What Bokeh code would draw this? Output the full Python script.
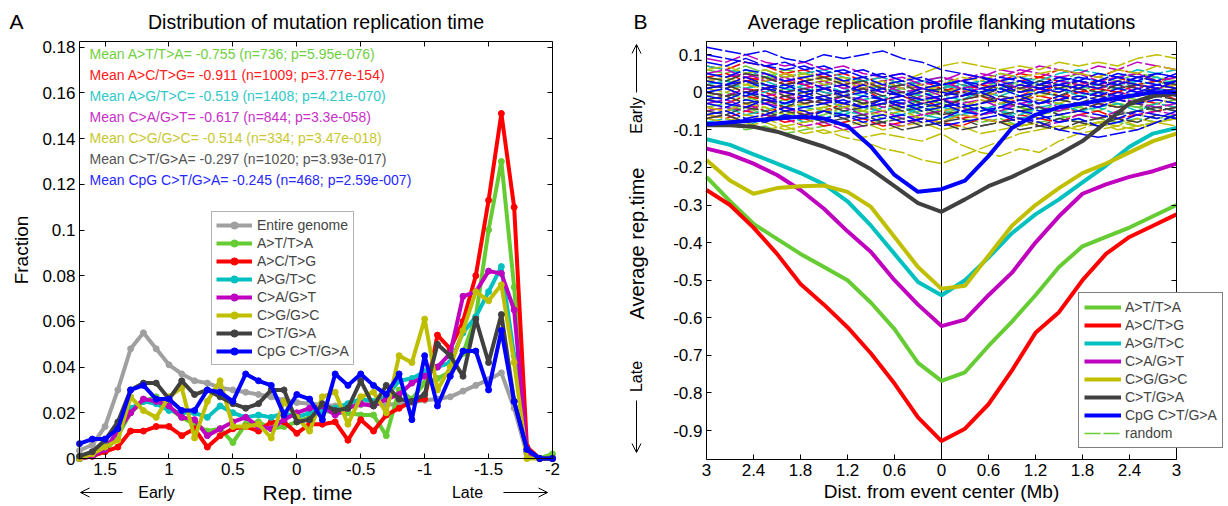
import math
from bokeh.plotting import figure
from bokeh.layouts import row
from bokeh.models import (Range1d, FixedTicker, LinearAxis, Label, Arrow, OpenHead,
                          Legend, LegendItem)
from bokeh.embed import file_html
from bokeh.resources import INLINE

FONT = "Liberation Sans"

# ---------------- Panel A data ----------------
REP_TIME = [1.7, 1.6, 1.5, 1.4, 1.3, 1.2, 1.1, 1.0, 0.9, 0.8, 0.7, 0.6, 0.5, 0.4, 0.3, 0.2, 0.1, 0.0,
            -0.1, -0.2, -0.3, -0.4, -0.5, -0.6, -0.7, -0.8, -0.9, -1.0, -1.1, -1.2, -1.3, -1.4, -1.5,
            -1.6, -1.7, -1.8, -1.9, -2.0]
GENOME = [0.0035, 0.006, 0.014, 0.030, 0.048, 0.055, 0.048, 0.041, 0.037, 0.034, 0.033, 0.031, 0.030,
          0.029, 0.028, 0.027, 0.0255, 0.0245,
          0.024, 0.0235, 0.023, 0.023, 0.0235, 0.024, 0.0235, 0.024, 0.0245, 0.0255, 0.026, 0.027,
          0.0295, 0.032, 0.0345, 0.0375, 0.022, 0.002, 0.0, 0.0]
A_AT = [0.0, 0.001, 0.003, 0.010, 0.020, 0.025, 0.027, 0.022, 0.018, 0.015, 0.012, 0.013, 0.007,
        0.015, 0.016, 0.013, 0.014, 0.016,
        0.018, 0.021, 0.020, 0.020, 0.019, 0.019, 0.010, 0.030, 0.026, 0.033, 0.035, 0.038, 0.046,
        0.062, 0.100, 0.130, 0.075, 0.003, 0.0, 0.002]
A_AC = [0.0, 0.001, 0.003, 0.005, 0.012, 0.012, 0.014, 0.014, 0.010, 0.013, 0.005, 0.010, 0.013,
        0.014, 0.012, 0.016, 0.016, 0.011,
        0.015, 0.015, 0.016, 0.008, 0.017, 0.012, 0.019, 0.022, 0.025, 0.026, 0.054, 0.048, 0.060,
        0.080, 0.113, 0.151, 0.110, 0.005, 0.0, 0.0]
A_AG = [0.0, 0.002, 0.005, 0.010, 0.022, 0.025, 0.024, 0.021, 0.020, 0.020, 0.018, 0.023, 0.020,
        0.018, 0.019, 0.018, 0.020, 0.018,
        0.020, 0.021, 0.022, 0.024, 0.026, 0.025, 0.027, 0.034, 0.035, 0.038, 0.040, 0.042, 0.055,
        0.062, 0.073, 0.084, 0.045, 0.003, 0.0, 0.0]
A_CA = [0.0, 0.001, 0.004, 0.012, 0.020, 0.026, 0.025, 0.023, 0.018, 0.017, 0.010, 0.013, 0.016,
        0.018, 0.014, 0.013, 0.017, 0.020,
        0.022, 0.023, 0.019, 0.022, 0.024, 0.023, 0.026, 0.028, 0.033, 0.036, 0.040, 0.046, 0.071,
        0.073, 0.082, 0.081, 0.065, 0.003, 0.0, 0.0]
A_CG = [0.0, 0.002, 0.005, 0.008, 0.027, 0.021, 0.018, 0.027, 0.031, 0.009, 0.025, 0.034, 0.014,
        0.014, 0.015, 0.009, 0.025, 0.018,
        0.012, 0.027, 0.029, 0.015, 0.027, 0.029, 0.020, 0.045, 0.042, 0.061, 0.030, 0.040, 0.056,
        0.073, 0.069, 0.076, 0.042, 0.0, 0.0, 0.0]
A_CT = [0.001, 0.003, 0.008, 0.016, 0.030, 0.033, 0.033, 0.026, 0.034, 0.028, 0.030, 0.027, 0.024,
        0.022, 0.024, 0.030, 0.030, 0.016,
        0.017, 0.024, 0.021, 0.022, 0.034, 0.023, 0.032, 0.026, 0.025, 0.028, 0.050, 0.045, 0.036,
        0.061, 0.042, 0.063, 0.025, 0.004, 0.0, 0.0]
A_CPG = [0.0065, 0.0085, 0.0085, 0.013, 0.030, 0.032, 0.026, 0.026, 0.021, 0.021, 0.030, 0.029, 0.025,
         0.037, 0.034, 0.032, 0.019, 0.028,
         0.026, 0.017, 0.037, 0.032, 0.037, 0.032, 0.028, 0.037, 0.017, 0.045, 0.023, 0.036, 0.047,
         0.047, 0.030, 0.056, 0.025, 0.004, 0.0, 0.0]

NAMES = ["A>T/T>A", "A>C/T>G", "A>G/T>C", "C>A/G>T", "C>G/G>C", "C>T/G>A", "CpG C>T/G>A"]
COLORS = ["#66cc33", "#ff0000", "#00c0c0", "#bf00bf", "#bfbf00", "#404040", "#0000ff"]
TEXT_COLORS = ["#70d040", "#ff2020", "#30c8c8", "#c830c8", "#c8c830", "#555555", "#2828ff"]
GENOME_COLOR = "#a0a0a0"
A_SERIES = [A_AT, A_AC, A_AG, A_CA, A_CG, A_CT, A_CPG]

MEAN_TEXTS = [
    "Mean A>T/T>A= -0.755 (n=736; p=5.95e-076)",
    "Mean A>C/T>G= -0.911 (n=1009; p=3.77e-154)",
    "Mean A>G/T>C= -0.519 (n=1408; p=4.21e-070)",
    "Mean C>A/G>T= -0.617 (n=844; p=3.3e-058)",
    "Mean C>G/G>C= -0.514 (n=334; p=3.47e-018)",
    "Mean C>T/G>A= -0.297 (n=1020; p=3.93e-017)",
    "Mean CpG C>T/G>A= -0.245 (n=468; p=2.59e-007)",
]

A_XTICKS = [1.5, 1.0, 0.5, 0.0, -0.5, -1.0, -1.5, -2.0]
A_XLABELS = ["1.5", "1", "0.5", "0", "-0.5", "-1", "-1.5", "-2"]
A_YTICKS = [0.0, 0.02, 0.04, 0.06, 0.08, 0.1, 0.12, 0.14, 0.16, 0.18]
A_YLABELS = ["0", "0.02", "0.04", "0.06", "0.08", "0.1", "0.12", "0.14", "0.16", "0.18"]

# ---------------- Panel B data ----------------
DIST = [-3.0, -2.7, -2.4, -2.1, -1.8, -1.5, -1.2, -0.9, -0.6, -0.3, 0.0,
        0.3, 0.6, 0.9, 1.2, 1.5, 1.8, 2.1, 2.4, 2.7, 3.0]
B_AT = [-0.225, -0.29, -0.35, -0.39, -0.43, -0.465, -0.50, -0.56, -0.63, -0.72, -0.768,
        -0.745, -0.675, -0.61, -0.54, -0.465, -0.41, -0.385, -0.36, -0.33, -0.30]
B_AC = [-0.26, -0.30, -0.36, -0.43, -0.51, -0.565, -0.625, -0.695, -0.775, -0.865, -0.928,
        -0.895, -0.83, -0.74, -0.64, -0.585, -0.50, -0.43, -0.385, -0.355, -0.325]
B_AG = [-0.125, -0.14, -0.165, -0.19, -0.215, -0.245, -0.29, -0.355, -0.43, -0.505, -0.54,
        -0.50, -0.44, -0.375, -0.325, -0.285, -0.24, -0.195, -0.145, -0.11, -0.095]
B_CA = [-0.15, -0.165, -0.19, -0.22, -0.26, -0.31, -0.37, -0.425, -0.50, -0.565, -0.622,
        -0.605, -0.54, -0.48, -0.40, -0.33, -0.27, -0.245, -0.225, -0.21, -0.19]
B_CG = [-0.18, -0.235, -0.27, -0.255, -0.25, -0.248, -0.265, -0.305, -0.385, -0.465, -0.523,
        -0.515, -0.435, -0.355, -0.30, -0.255, -0.215, -0.19, -0.16, -0.13, -0.11]
B_CT = [-0.088, -0.088, -0.092, -0.105, -0.125, -0.145, -0.17, -0.205, -0.25, -0.295, -0.318,
        -0.285, -0.25, -0.225, -0.195, -0.165, -0.13, -0.08, -0.03, -0.01, -0.005]
B_CPG = [-0.085, -0.08, -0.075, -0.07, -0.065, -0.07, -0.09, -0.145, -0.22, -0.265, -0.258,
         -0.235, -0.17, -0.095, -0.06, -0.04, -0.03, -0.02, -0.01, 0.0, 0.0]
B_SERIES = [B_AT, B_AC, B_AG, B_CA, B_CG, B_CT, B_CPG]

# random control profiles (thin dashed), grouped by colour
RANDOM_X = [-3.0, -2.75, -2.5, -2.25, -2.0, -1.75, -1.5, -1.25, -1.0, -0.75, -0.5, -0.25, 0.0,
            0.25, 0.5, 0.75, 1.0, 1.25, 1.5, 1.75, 2.0, 2.25, 2.5, 2.75, 3.0]
RANDOM_GREEN = [
    [0.02, 0.03, 0.02, 0.04, 0.03, 0.02, 0.03, 0.01, 0.02, 0.00, 0.01, -0.01, 0.00, 0.01, 0.02, 0.01, 0.03, 0.02, 0.01, 0.02, 0.00, 0.01, 0.02, 0.01, 0.02],
    [-0.04, -0.03, -0.05, -0.04, -0.06, -0.05, -0.04, -0.06, -0.05, -0.07, -0.06, -0.05, -0.06, -0.04, -0.05, -0.03, -0.04, -0.05, -0.03, -0.04, -0.02, -0.03, -0.04, -0.03, -0.02],
    [0.06, 0.05, 0.07, 0.05, 0.04, 0.05, 0.03, 0.04, 0.02, 0.03, 0.01, 0.02, 0.00, 0.02, 0.01, 0.03, 0.02, 0.04, 0.03, 0.05, 0.04, 0.03, 0.05, 0.04, 0.03],
    [-0.01, 0.00, -0.02, -0.01, 0.01, 0.00, -0.02, -0.03, -0.02, -0.04, -0.03, -0.05, -0.04, -0.03, -0.05, -0.04, -0.02, -0.03, -0.01, -0.02, 0.00, -0.01, -0.02, 0.00, -0.01],
    [-0.09, -0.08, -0.10, -0.09, -0.11, -0.10, -0.09, -0.08, -0.07, -0.08, -0.06, -0.07, -0.05, -0.07, -0.08, -0.07, -0.09, -0.08, -0.07, -0.06, -0.07, -0.05, -0.06, -0.07, -0.06],
    [0.04, 0.03, 0.05, 0.04, 0.06, 0.05, 0.04, 0.03, 0.04, 0.02, 0.03, 0.02, 0.03, 0.01, 0.02, 0.00, 0.01, 0.02, 0.01, 0.03, 0.02, 0.01, 0.02, 0.03, 0.01],
    [-0.02, -0.03, -0.01, -0.03, -0.02, -0.04, -0.03, -0.01, -0.02, -0.01, 0.00, -0.01, -0.03, -0.02, -0.04, -0.05, -0.04, -0.06, -0.05, -0.04, -0.05, -0.03, -0.04, -0.05, -0.04],
    [-0.06, -0.05, -0.04, -0.06, -0.05, -0.07, -0.06, -0.04, -0.05, -0.03, -0.04, -0.02, -0.03, -0.05, -0.04, -0.06, -0.05, -0.07, -0.06, -0.08, -0.07, -0.08, -0.09, -0.08, -0.07],
]
RANDOM_RED = [
    [0.04, 0.05, 0.03, 0.04, 0.02, 0.03, 0.01, 0.02, 0.00, 0.01, -0.01, 0.00, 0.01, 0.00, 0.02, 0.01, 0.03, 0.04, 0.03, 0.02, 0.03, 0.04, 0.02, 0.03, 0.02],
    [-0.02, -0.03, -0.01, -0.02, -0.04, -0.03, -0.02, -0.04, -0.03, -0.02, -0.03, -0.02, -0.04, -0.02, -0.01, -0.03, -0.02, -0.01, -0.02, 0.00, -0.01, -0.02, -0.01, 0.00, -0.02],
    [0.01, 0.02, 0.00, 0.01, 0.03, 0.02, 0.00, -0.01, 0.01, -0.02, -0.01, -0.03, -0.02, -0.01, 0.00, -0.02, -0.01, 0.01, 0.00, 0.02, 0.01, 0.00, 0.02, 0.01, 0.03],
    [-0.06, -0.07, -0.05, -0.06, -0.08, -0.07, -0.09, -0.08, -0.07, -0.09, -0.08, -0.07, -0.08, -0.09, -0.07, -0.08, -0.06, -0.07, -0.08, -0.06, -0.05, -0.07, -0.06, -0.05, -0.04],
    [0.07, 0.06, 0.08, 0.07, 0.05, 0.06, 0.04, 0.05, 0.03, 0.04, 0.02, 0.03, 0.01, 0.03, 0.04, 0.03, 0.05, 0.04, 0.06, 0.05, 0.04, 0.06, 0.05, 0.03, 0.04],
    [0.03, 0.02, 0.04, 0.03, 0.05, 0.03, 0.04, 0.02, 0.03, 0.01, 0.02, 0.01, 0.00, 0.02, 0.01, 0.02, 0.00, 0.01, -0.01, 0.00, 0.01, 0.00, 0.02, 0.01, 0.00],
    [-0.04, -0.05, -0.03, -0.05, -0.04, -0.06, -0.05, -0.03, -0.04, -0.05, -0.04, -0.06, -0.05, -0.07, -0.06, -0.05, -0.07, -0.06, -0.04, -0.05, -0.03, -0.04, -0.02, -0.03, -0.04],
    [0.00, -0.01, 0.01, 0.00, -0.02, -0.01, 0.01, 0.00, 0.02, 0.01, 0.00, 0.01, 0.02, 0.01, 0.03, 0.02, 0.01, 0.00, 0.02, 0.01, -0.01, 0.00, -0.01, 0.01, 0.00],
]
RANDOM_CYAN = [
    [0.00, 0.01, -0.01, 0.00, 0.02, 0.01, 0.00, -0.01, -0.02, -0.01, -0.03, -0.02, -0.01, -0.02, 0.00, -0.01, 0.01, 0.00, -0.01, 0.01, 0.02, 0.01, 0.00, 0.01, 0.00],
    [0.05, 0.04, 0.06, 0.04, 0.03, 0.04, 0.02, 0.03, 0.01, 0.02, 0.00, 0.01, 0.02, 0.01, 0.03, 0.02, 0.01, 0.03, 0.02, 0.04, 0.03, 0.02, 0.03, 0.04, 0.02],
    [-0.05, -0.04, -0.06, -0.05, -0.03, -0.04, -0.05, -0.06, -0.04, -0.05, -0.06, -0.04, -0.05, -0.06, -0.04, -0.05, -0.06, -0.04, -0.03, -0.05, -0.04, -0.03, -0.05, -0.04, -0.05],
    [0.03, 0.02, 0.01, 0.03, 0.01, 0.00, 0.02, 0.00, -0.01, 0.01, 0.00, -0.01, 0.01, 0.02, 0.00, 0.01, -0.01, 0.00, 0.01, -0.01, 0.00, -0.02, -0.01, 0.00, -0.01],
    [-0.08, -0.07, -0.09, -0.07, -0.06, -0.08, -0.07, -0.05, -0.06, -0.04, -0.05, -0.03, -0.04, -0.05, -0.06, -0.05, -0.07, -0.06, -0.08, -0.07, -0.09, -0.08, -0.07, -0.08, -0.06],
    [0.02, 0.03, 0.01, 0.02, 0.00, 0.02, 0.03, 0.01, 0.00, 0.02, 0.01, 0.03, 0.02, 0.01, 0.00, 0.01, 0.03, 0.02, 0.04, 0.03, 0.02, 0.01, 0.03, 0.02, 0.03],
    [-0.03, -0.02, -0.04, -0.02, -0.03, -0.01, -0.02, -0.04, -0.03, -0.05, -0.04, -0.06, -0.07, -0.06, -0.05, -0.03, -0.04, -0.02, -0.03, -0.05, -0.04, -0.06, -0.05, -0.03, -0.04],
    [0.07, 0.06, 0.05, 0.06, 0.04, 0.05, 0.06, 0.04, 0.03, 0.04, 0.02, 0.03, 0.04, 0.02, 0.03, 0.05, 0.04, 0.03, 0.05, 0.06, 0.05, 0.04, 0.06, 0.05, 0.06],
]
RANDOM_MAGENTA = [
    [0.09, 0.08, 0.10, 0.08, 0.07, 0.08, 0.06, 0.07, 0.05, 0.04, 0.05, 0.03, 0.04, 0.03, 0.05, 0.04, 0.06, 0.05, 0.04, 0.05, 0.03, 0.04, 0.05, 0.03, 0.04],
    [-0.03, -0.02, -0.04, -0.03, -0.01, -0.02, -0.03, -0.01, -0.02, -0.04, -0.03, -0.01, -0.02, -0.03, -0.02, -0.04, -0.03, -0.02, -0.04, -0.03, -0.02, -0.01, -0.03, -0.02, -0.03],
    [0.02, 0.01, 0.03, 0.02, 0.00, 0.01, 0.02, 0.03, 0.01, 0.02, 0.00, 0.01, -0.01, 0.00, 0.01, 0.02, 0.00, 0.01, 0.02, 0.03, 0.01, 0.02, 0.00, 0.01, 0.02],
    [-0.07, -0.06, -0.08, -0.06, -0.07, -0.09, -0.08, -0.10, -0.09, -0.08, -0.09, -0.07, -0.08, -0.06, -0.07, -0.08, -0.07, -0.09, -0.08, -0.06, -0.07, -0.05, -0.06, -0.05, -0.06],
    [0.00, -0.01, 0.01, -0.01, 0.00, -0.02, -0.01, 0.00, 0.01, 0.00, 0.02, 0.01, 0.00, 0.01, -0.01, 0.00, 0.02, 0.01, 0.03, 0.02, 0.01, 0.03, 0.02, 0.01, 0.02],
    [0.05, 0.06, 0.04, 0.05, 0.03, 0.04, 0.05, 0.03, 0.02, 0.03, 0.01, 0.02, 0.03, 0.01, 0.02, 0.03, 0.01, 0.02, 0.04, 0.03, 0.02, 0.03, 0.01, 0.02, 0.01],
    [-0.05, -0.04, -0.05, -0.03, -0.04, -0.06, -0.05, -0.04, -0.06, -0.05, -0.07, -0.06, -0.05, -0.04, -0.06, -0.05, -0.03, -0.04, -0.05, -0.03, -0.04, -0.02, -0.03, -0.04, -0.03],
    [0.03, 0.04, 0.05, 0.03, 0.04, 0.02, 0.03, 0.01, 0.02, 0.03, 0.04, 0.02, 0.03, 0.05, 0.04, 0.06, 0.05, 0.07, 0.06, 0.05, 0.07, 0.06, 0.08, 0.07, 0.06],
]
RANDOM_YELLOW = [
    [0.03, 0.04, 0.02, 0.03, 0.05, 0.04, 0.02, 0.03, 0.01, 0.02, 0.03, 0.05, 0.07, 0.08, 0.07, 0.06, 0.07, 0.06, 0.08, 0.07, 0.08, 0.07, 0.09, 0.10, 0.09],
    [-0.08, -0.09, -0.08, -0.10, -0.09, -0.11, -0.10, -0.12, -0.13, -0.15, -0.16, -0.18, -0.19, -0.17, -0.15, -0.13, -0.11, -0.10, -0.09, -0.10, -0.08, -0.09, -0.07, -0.08, -0.07],
    [-0.06, -0.07, -0.09, -0.08, -0.10, -0.09, -0.11, -0.10, -0.12, -0.11, -0.12, -0.13, -0.11, -0.14, -0.16, -0.17, -0.15, -0.16, -0.13, -0.11, -0.10, -0.09, -0.10, -0.08, -0.09],
    [0.01, 0.00, 0.02, 0.01, -0.01, 0.00, 0.01, -0.01, 0.00, 0.01, -0.01, 0.00, 0.02, 0.04, 0.03, 0.05, 0.04, 0.05, 0.06, 0.05, 0.04, 0.06, 0.05, 0.07, 0.06],
    [-0.04, -0.05, -0.03, -0.04, -0.06, -0.05, -0.04, -0.03, -0.05, -0.06, -0.05, -0.07, -0.08, -0.06, -0.07, -0.08, -0.09, -0.08, -0.10, -0.09, -0.08, -0.10, -0.09, -0.08, -0.07],
    [0.06, 0.07, 0.05, 0.06, 0.04, 0.05, 0.03, 0.04, 0.02, 0.03, 0.01, 0.02, 0.00, 0.01, -0.01, 0.00, 0.01, -0.01, 0.00, 0.02, 0.01, 0.03, 0.02, 0.01, 0.02],
    [-0.02, -0.01, -0.03, -0.02, -0.04, -0.03, -0.05, -0.04, -0.03, -0.05, -0.04, -0.03, -0.05, -0.04, -0.02, -0.03, -0.01, -0.02, -0.03, -0.01, -0.02, -0.04, -0.03, -0.02, -0.03],
    [-0.07, -0.08, -0.06, -0.07, -0.09, -0.08, -0.07, -0.09, -0.08, -0.10, -0.09, -0.08, -0.10, -0.09, -0.11, -0.10, -0.09, -0.08, -0.10, -0.09, -0.08, -0.07, -0.09, -0.08, -0.06],
]
RANDOM_GRAY = [
    [-0.05, -0.06, -0.04, -0.05, -0.07, -0.06, -0.05, -0.07, -0.06, -0.08, -0.07, -0.09, -0.08, -0.07, -0.09, -0.08, -0.07, -0.09, -0.10, -0.08, -0.07, -0.06, -0.05, -0.04, -0.05],
    [0.01, 0.02, 0.00, 0.01, -0.01, 0.00, -0.02, -0.01, -0.03, -0.02, -0.04, -0.03, -0.02, -0.04, -0.03, -0.01, -0.02, 0.00, -0.01, 0.01, 0.00, 0.02, 0.01, 0.00, 0.01],
    [-0.02, -0.01, -0.03, -0.02, -0.04, -0.02, -0.03, -0.05, -0.04, -0.03, -0.05, -0.04, -0.06, -0.05, -0.04, -0.06, -0.05, -0.04, -0.06, -0.05, -0.03, -0.04, -0.03, -0.05, -0.04],
    [0.04, 0.03, 0.05, 0.04, 0.02, 0.03, 0.04, 0.02, 0.03, 0.01, 0.02, 0.00, 0.01, -0.01, 0.00, 0.02, 0.01, 0.03, 0.02, 0.01, 0.03, 0.02, 0.04, 0.03, 0.02],
    [0.02, 0.01, 0.03, 0.02, 0.00, 0.01, -0.01, 0.00, 0.01, -0.01, 0.00, -0.02, -0.01, 0.00, -0.01, 0.01, 0.00, 0.02, 0.01, 0.03, 0.02, 0.01, 0.02, 0.00, 0.01],
    [-0.07, -0.06, -0.08, -0.07, -0.05, -0.06, -0.08, -0.07, -0.09, -0.08, -0.10, -0.09, -0.08, -0.10, -0.09, -0.08, -0.10, -0.09, -0.07, -0.08, -0.09, -0.07, -0.08, -0.06, -0.07],
    [0.00, -0.01, 0.00, -0.02, -0.01, -0.03, -0.02, -0.01, -0.03, -0.02, -0.01, -0.03, -0.04, -0.02, -0.01, -0.02, -0.04, -0.03, -0.02, -0.03, -0.01, -0.02, -0.03, -0.01, -0.02],
]
RANDOM_BLUE = [
    [0.12, 0.11, 0.10, 0.11, 0.09, 0.08, 0.10, 0.09, 0.10, 0.11, 0.09, 0.08, 0.06, 0.05, 0.04, 0.03, 0.04, 0.02, 0.03, 0.04, 0.03, 0.05, 0.04, 0.05, 0.04],
    [0.10, 0.09, 0.08, 0.07, 0.08, 0.06, 0.07, 0.05, 0.06, 0.04, 0.05, 0.03, 0.02, 0.03, 0.01, 0.02, 0.00, 0.01, 0.02, 0.01, 0.03, 0.02, 0.04, 0.03, 0.05],
    [-0.01, -0.02, 0.00, -0.01, -0.03, -0.02, -0.01, -0.03, -0.04, -0.02, -0.03, -0.05, -0.04, -0.03, -0.05, -0.04, -0.02, -0.03, -0.01, -0.02, 0.00, -0.01, 0.01, 0.00, -0.01],
    [0.03, 0.02, 0.04, 0.02, 0.01, 0.03, 0.01, 0.00, 0.02, 0.00, -0.01, 0.01, 0.00, -0.01, 0.01, 0.00, 0.02, 0.01, 0.00, 0.02, 0.01, 0.03, 0.02, 0.01, 0.03],
    [-0.06, -0.05, -0.07, -0.06, -0.04, -0.05, -0.07, -0.06, -0.08, -0.07, -0.06, -0.08, -0.07, -0.05, -0.06, -0.04, -0.05, -0.06, -0.08, -0.07, -0.09, -0.08, -0.06, -0.07, -0.05],
    [0.00, 0.01, -0.01, 0.01, 0.00, -0.01, 0.01, 0.02, 0.00, 0.01, -0.01, 0.00, -0.02, -0.01, 0.00, -0.02, -0.01, -0.03, -0.02, -0.01, -0.02, 0.00, -0.01, 0.01, 0.00],
    [-0.03, -0.04, -0.02, -0.03, -0.05, -0.04, -0.03, -0.02, -0.04, -0.03, -0.02, -0.04, -0.03, -0.05, -0.04, -0.06, -0.07, -0.08, -0.10, -0.11, -0.12, -0.11, -0.10, -0.08, -0.06],
    [0.05, 0.04, 0.06, 0.05, 0.03, 0.04, 0.05, 0.03, 0.04, 0.02, 0.03, 0.01, 0.02, 0.03, 0.02, 0.04, 0.03, 0.02, 0.04, 0.03, 0.05, 0.04, 0.03, 0.05, 0.04],
    [0.08, 0.07, 0.09, 0.07, 0.06, 0.07, 0.05, 0.06, 0.04, 0.05, 0.03, 0.04, 0.02, 0.03, 0.04, 0.02, 0.03, 0.01, 0.02, 0.03, 0.02, 0.04, 0.03, 0.02, 0.03],
    [-0.02, -0.03, -0.04, -0.02, -0.03, -0.01, -0.02, -0.03, -0.01, -0.02, -0.04, -0.03, -0.02, -0.04, -0.03, -0.02, -0.03, -0.05, -0.04, -0.03, -0.04, -0.02, -0.03, -0.02, -0.03],
    [0.01, 0.02, 0.03, 0.01, 0.02, 0.00, 0.01, -0.01, 0.00, -0.02, -0.01, -0.02, -0.01, 0.01, 0.00, 0.01, -0.01, 0.00, 0.01, 0.00, -0.01, 0.01, 0.00, 0.02, 0.01],
    [-0.08, -0.09, -0.07, -0.08, -0.06, -0.07, -0.05, -0.06, -0.07, -0.06, -0.08, -0.07, -0.09, -0.08, -0.07, -0.06, -0.08, -0.07, -0.06, -0.05, -0.06, -0.07, -0.05, -0.06, -0.07],
]
RANDOM_GROUPS = [RANDOM_GREEN, RANDOM_RED, RANDOM_CYAN, RANDOM_MAGENTA, RANDOM_YELLOW, RANDOM_GRAY, RANDOM_BLUE]

B_XTICKS = [-3.0, -2.4, -1.8, -1.2, -0.6, 0.0, 0.6, 1.2, 1.8, 2.4, 3.0]
B_XLABELS = ["3", "2.4", "1.8", "1.2", "0.6", "0", "0.6", "1.2", "1.8", "2.4", "3"]
B_YTICKS = [0.1, 0.0, -0.1, -0.2, -0.3, -0.4, -0.5, -0.6, -0.7, -0.8, -0.9]
B_YLABELS = ["0.1", "0", "-0.1", "-0.2", "-0.3", "-0.4", "-0.5", "-0.6", "-0.7", "-0.8", "-0.9"]

# ---------------- geometry (pixel positions in the reference picture) ----------------
A_LEFT, A_RIGHT, A_TOP, A_BOTTOM = 79.0, 552.0, 41.0, 458.0
A_XMIN, A_XMAX, A_YMIN, A_YMAX = 1.7, -2.0, 0.0, 0.1825
B_LEFT, B_RIGHT, B_TOP, B_BOTTOM = 706.0, 1176.0, 41.0, 459.0
B_XMIN, B_XMAX, B_YMIN, B_YMAX = -3.0, 3.0, -0.977, 0.135
H = 504
WA = 620
WB = 1226 - WA
CANVAS_TOP = 0
CANVAS_BOTTOM = H
TICK_FONT = "17px"


def ax_(px):
    return A_XMIN + (px - A_LEFT) / (A_RIGHT - A_LEFT) * (A_XMAX - A_XMIN)


def ay_(py):
    return A_YMAX - (py - A_TOP) / (A_BOTTOM - A_TOP) * (A_YMAX - A_YMIN)


def bx_(px):
    return B_XMIN + (px - B_LEFT) / (B_RIGHT - B_LEFT) * (B_XMAX - B_XMIN)


def by_(py):
    return B_YMAX - (py - B_TOP) / (B_BOTTOM - B_TOP) * (B_YMAX - B_YMIN)


def boxed_axes(p, xticks, xlabels, yticks, ylabels, xmin, xmax, ymin, ymax):
    p.xgrid.visible = False
    p.ygrid.visible = False
    p.outline_line_color = None
    p.background_fill_color = "white"
    p.border_fill_color = "white"
    xb = (min(xmin, xmax), max(xmin, xmax))
    yb = (min(ymin, ymax), max(ymin, ymax))
    xa = p.xaxis[0]
    ya = p.yaxis[0]
    xa.fixed_location = ymin
    xa.bounds = xb
    xa.ticker = FixedTicker(ticks=xticks)
    xa.major_label_overrides = dict(zip(xticks, xlabels))
    ya.fixed_location = xmin
    ya.bounds = yb
    ya.ticker = FixedTicker(ticks=yticks)
    ya.major_label_overrides = dict(zip(yticks, ylabels))
    for ax in (xa, ya):
        ax.major_tick_in = 5
        ax.major_tick_out = 0
        ax.minor_tick_line_color = None
        ax.axis_line_color = "black"
        ax.major_tick_line_color = "black"
        ax.major_label_text_font = FONT
        ax.major_label_text_font_size = TICK_FONT
        ax.major_label_text_color = "black"
        ax.major_label_standoff = 4
    top = LinearAxis(fixed_location=ymax, bounds=xb, ticker=FixedTicker(ticks=xticks),
                     major_tick_in=5, major_tick_out=0, minor_tick_line_color=None,
                     major_label_text_color=None, axis_line_color="black")
    right = LinearAxis(fixed_location=xmax, bounds=yb, ticker=FixedTicker(ticks=yticks),
                       major_tick_in=5, major_tick_out=0, minor_tick_line_color=None,
                       major_label_text_color=None, axis_line_color="black")
    p.add_layout(top, "above")
    p.add_layout(right, "right")


def text(p, x, y, t, size, color="black", align="center", angle=0.0):
    p.add_layout(Label(x=x, y=y, text=t, text_font=FONT, text_font_size=size,
                       text_color=color, text_align=align, text_baseline="middle",
                       angle=angle))


def arrow(p, x0, y0, x1, y1):
    p.add_layout(Arrow(end=OpenHead(size=9, line_width=1, line_color="black"),
                       x_start=x0, y_start=y0, x_end=x1, y_end=y1,
                       line_width=1, line_color="black"))


# ---------------- Panel A ----------------
p1 = figure(width=WA, height=H, output_backend="svg", toolbar_location=None,
            x_range=Range1d(ax_(0), ax_(WA)),
            y_range=Range1d(ay_(CANVAS_BOTTOM), ay_(CANVAS_TOP)), min_border=0)
boxed_axes(p1, A_XTICKS, A_XLABELS, A_YTICKS, A_YLABELS, A_XMIN, A_XMAX, A_YMIN, A_YMAX)

items = []
for name, ys, col in [("Entire genome", GENOME, GENOME_COLOR)] + list(zip(NAMES, A_SERIES, COLORS)):
    lr = p1.line(REP_TIME, ys, line_color=col, line_width=4)
    sr = p1.scatter(REP_TIME, ys, size=6, color=col)
    items.append(LegendItem(label=name, renderers=[lr, sr]))
leg1 = Legend(items=items, location=(211, int(CANVAS_BOTTOM - 365)),
              label_text_font=FONT, label_text_font_size="14px", glyph_width=36, glyph_height=18,
              label_height=18, label_standoff=5, padding=4, spacing=0, margin=0,
              border_line_color="#666666", border_line_width=1, background_fill_color="white",
              background_fill_alpha=1.0)
p1.add_layout(leg1)

for i, (t, c) in enumerate(zip(MEAN_TEXTS, TEXT_COLORS)):
    text(p1, ax_(89), ay_(53.3 + 21.1 * i), t, "14px", c, align="left")

text(p1, ax_(16), ay_(21), "A", "21px")
text(p1, (A_XMIN + A_XMAX) / 2, ay_(21), "Distribution of mutation replication time", "19.5px")
text(p1, ax_(21), (A_YMIN + A_YMAX) / 2, "Fraction", "19px", angle=math.pi / 2)
text(p1, ax_(307), ay_(492), "Rep. time", "21px")
text(p1, ax_(156), ay_(492), "Early", "16px")
text(p1, ax_(467), ay_(492), "Late", "16px")
arrow(p1, ax_(122), ay_(492), ax_(80), ay_(492))
arrow(p1, ax_(503), ay_(492), ax_(547), ay_(492))

# ---------------- Panel B ----------------
p2 = figure(width=WB, height=H, output_backend="svg", toolbar_location=None,
            x_range=Range1d(bx_(WA), bx_(WA + WB)),
            y_range=Range1d(by_(CANVAS_BOTTOM), by_(CANVAS_TOP)), min_border=0)
boxed_axes(p2, B_XTICKS, B_XLABELS, B_YTICKS, B_YLABELS, B_XMIN, B_XMAX, B_YMIN, B_YMAX)

random_renderer = None
for group, col in zip(RANDOM_GROUPS, COLORS):
    for ys in group:
        n = min(len(RANDOM_X), len(ys))
        r = p2.line(RANDOM_X[:n], ys[:n], line_color=col, line_width=1.5, line_dash="16 3")
        if random_renderer is None:
            random_renderer = r

# event centre
p2.segment(x0=[0.0], y0=[B_YMIN], x1=[0.0], y1=[B_YMAX], line_color="black", line_width=1)

items2 = []
for name, ys, col in zip(NAMES, B_SERIES, COLORS):
    lr = p2.line(DIST, ys, line_color=col, line_width=4)
    items2.append(LegendItem(label=name, renderers=[lr]))
items2.append(LegendItem(label="random", renderers=[random_renderer]))

leg2 = Legend(items=items2, location=(int(1078 - WA), int(CANVAS_BOTTOM - 448)),
              label_text_font=FONT, label_text_font_size="14px", glyph_width=37, glyph_height=18,
              label_height=18, label_standoff=4, padding=5, spacing=0, margin=0,
              border_line_color="black", border_line_width=1, background_fill_color="white",
              background_fill_alpha=1.0)
p2.add_layout(leg2)

text(p2, bx_(640), by_(21), "B", "21px")
text(p2, (B_XMIN + B_XMAX) / 2, by_(21), "Average replication profile flanking mutations", "19.5px")
text(p2, (B_XMIN + B_XMAX) / 2, by_(491), "Dist. from event center (Mb)", "19px")
text(p2, bx_(636), by_(243), "Average rep.time", "20px", angle=math.pi / 2)
text(p2, bx_(636), by_(115), "Early", "16px", angle=math.pi / 2)
text(p2, bx_(636), by_(376), "Late", "16px", angle=math.pi / 2)
arrow(p2, bx_(636), by_(92), bx_(636), by_(44))
arrow(p2, bx_(636), by_(400), bx_(636), by_(452))

layout = row(p1, p2)
open("out.html", "w").write(file_html(layout, INLINE, "Replication timing of mutations"))
